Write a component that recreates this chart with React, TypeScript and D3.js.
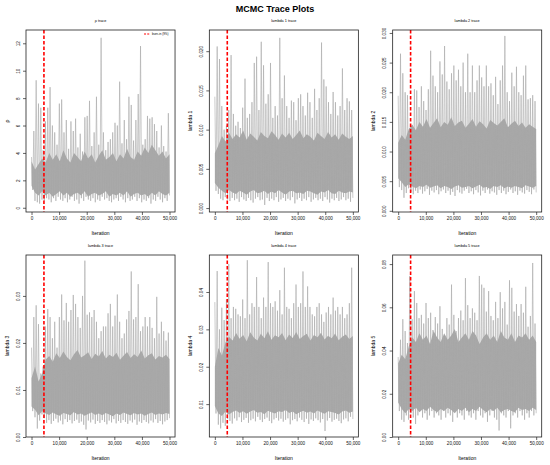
'use client'

import React, { useEffect, useRef } from 'react'
import * as d3 from 'd3'

// Iteration axis
const iterationTicks = [0, 10000, 20000, 30000, 40000, 50000]
const totalIterations = 50000
const burnInIteration = 4500
const burnInLabel = 'burn-in (9%)'

// Peaks and troughs seen in 60 consecutive slices of each chain
const rhoHigh = [
  3.7, 5.6, 9.3, 7.6, 7.3, 4.2, 6.3, 7.3, 8.8, 6.0,
  5.5, 4.6, 7.6, 7.9, 5.5, 6.4, 4.3, 6.3, 5.6, 6.5,
  4.4, 5.4, 4.1, 6.6, 6.7, 7.8, 4.5, 5.5, 8.1, 4.6,
  12.4, 5.5, 4.2, 4.8, 5.0, 5.5, 6.2, 6.0, 9.2, 4.7,
  6.4, 5.0, 8.1, 7.5, 4.9, 6.4, 8.3, 11.8, 4.6, 5.0,
  6.7, 6.5, 6.6, 6.1, 5.6, 4.4, 6.0, 4.5, 4.1, 6.9,
]
const rhoLow = [
  1.3, 0.5, 0.4, 0.3, 0.6, 0.5, 0.7, 0.6, 0.4, 0.7,
  0.5, 0.8, 0.6, 0.5, 0.7, 0.4, 0.6, 0.8, 0.5, 0.6,
  0.3, 0.7, 0.5, 0.8, 0.6, 0.5, 0.7, 0.4, 0.6, 0.5,
  0.8, 0.6, 0.7, 0.5, 0.4, 0.6, 0.7, 0.5, 0.8, 0.6,
  0.4, 0.7, 0.5, 0.6, 0.8, 0.5, 0.7, 0.4, 0.6, 0.5,
  0.7, 0.3, 0.6, 0.5, 0.8, 0.6, 0.4, 0.7, 0.5, 0.9,
]
// Edges of the dense body of each chain (40 points along the chain)
const rhoCoreHigh = [
  3.4, 2.8, 3.2, 3.6, 3.3, 4.0, 3.5, 3.9, 3.4, 4.2, 3.6, 3.3, 4.0, 3.7, 3.4, 4.1, 3.6, 3.9, 3.3, 3.8,
  4.2, 3.5, 3.7, 4.0, 3.4, 3.9, 3.6, 4.3, 3.7, 3.5, 4.1, 3.8, 4.4, 4.0, 4.6, 4.2, 3.8, 4.1, 3.6, 3.9,
]
const rhoCoreLow = [
  1.6, 1.1, 0.9, 1.2, 0.9, 1.1, 0.8, 1.0, 1.2, 0.9, 1.1, 0.8, 1.0, 1.1, 0.9, 1.2, 0.8, 1.0, 1.1, 0.9,
  1.0, 1.2, 0.8, 1.0, 0.9, 1.1, 0.9, 1.2, 0.8, 1.0, 1.1, 0.9, 1.0, 0.8, 1.1, 0.9, 1.2, 1.0, 0.9, 1.1,
]

const lambda1High = [
  0.0142, 0.0206, 0.019, 0.013, 0.010, 0.0105, 0.0125, 0.0195, 0.012, 0.0105,
  0.011, 0.0102, 0.0128, 0.0165, 0.0115, 0.012, 0.0135, 0.0185, 0.0193, 0.0125,
  0.0212, 0.0182, 0.0133, 0.0145, 0.0185, 0.0115, 0.013, 0.0118, 0.0217, 0.014,
  0.0169, 0.013, 0.0115, 0.0137, 0.0135, 0.0112, 0.014, 0.0145, 0.013, 0.0118,
  0.0147, 0.0135, 0.0115, 0.0152, 0.0125, 0.014, 0.0211, 0.0164, 0.0155, 0.0135,
  0.012, 0.0148, 0.0135, 0.0118, 0.013, 0.0178, 0.0125, 0.014, 0.0136, 0.0125,
]
const lambda1Low = [
  0.0022, 0.0018, 0.0012, 0.0010, 0.0014, 0.0011, 0.0009, 0.0013, 0.0010, 0.0012,
  0.0008, 0.0014, 0.0011, 0.0009, 0.0013, 0.0010, 0.0007, 0.0012, 0.0014, 0.0010,
  0.0011, 0.0004, 0.0013, 0.0009, 0.0012, 0.0010, 0.0014, 0.0008, 0.0011, 0.0013,
  0.0009, 0.0012, 0.0010, 0.0014, 0.0006, 0.0011, 0.0013, 0.0009, 0.0012, 0.0010,
  0.0014, 0.0008, 0.0011, 0.0013, 0.0010, 0.0012, 0.0009, 0.0014, 0.0011, 0.0007,
  0.0012, 0.0010, 0.0013, 0.0009, 0.0011, 0.0014, 0.0010, 0.0012, 0.0008, 0.0013,
]
const lambda1CoreHigh = [
  0.0070, 0.0080, 0.0092, 0.0085, 0.0096, 0.0088, 0.0094, 0.0090, 0.0099, 0.0087,
  0.0095, 0.0091, 0.0086, 0.0097, 0.0092, 0.0089, 0.0098, 0.0093, 0.0087, 0.0095,
  0.0090, 0.0096, 0.0088, 0.0093, 0.0099, 0.0089, 0.0094, 0.0091, 0.0086, 0.0096,
  0.0092, 0.0088, 0.0097, 0.0090, 0.0094, 0.0087, 0.0095, 0.0091, 0.0088, 0.0092,
]
const lambda1CoreLow = [
  0.0032, 0.0026, 0.0022, 0.0019, 0.0023, 0.0020, 0.0018, 0.0022, 0.0020, 0.0017,
  0.0021, 0.0023, 0.0019, 0.0020, 0.0022, 0.0018, 0.0021, 0.0019, 0.0023, 0.0020,
  0.0017, 0.0021, 0.0022, 0.0019, 0.0020, 0.0018, 0.0022, 0.0021, 0.0019, 0.0017,
  0.0021, 0.0020, 0.0023, 0.0019, 0.0018, 0.0022, 0.0020, 0.0019, 0.0021, 0.0020,
]

const lambda2High = [
  0.0194, 0.0265, 0.0232, 0.020, 0.0195, 0.014, 0.0145, 0.0205, 0.0203, 0.0175,
  0.021, 0.0185, 0.017, 0.0205, 0.027, 0.0228, 0.021, 0.020, 0.0252, 0.023,
  0.0278, 0.0218, 0.0205, 0.0232, 0.0245, 0.022, 0.0238, 0.021, 0.025, 0.020,
  0.0265, 0.020, 0.0245, 0.020, 0.022, 0.0245, 0.0225, 0.021, 0.0245, 0.021,
  0.0215, 0.0195, 0.0226, 0.018, 0.022, 0.0245, 0.0295, 0.020, 0.0185, 0.0233,
  0.021, 0.0243, 0.020, 0.0195, 0.0228, 0.0245, 0.0188, 0.019, 0.0195, 0.0185,
]
const lambda2Low = [
  0.0040, 0.0035, 0.0022, 0.0030, 0.0038, 0.0032, 0.0028, 0.0034, 0.0030, 0.0036,
  0.0029, 0.0033, 0.0037, 0.0027, 0.0034, 0.0031, 0.0035, 0.0028, 0.0033, 0.0036,
  0.0030, 0.0034, 0.0027, 0.0032, 0.0025, 0.0035, 0.0031, 0.0029, 0.0034, 0.0037,
  0.0030, 0.0033, 0.0028, 0.0035, 0.0031, 0.0026, 0.0034, 0.0030, 0.0036, 0.0029,
  0.0033, 0.0031, 0.0027, 0.0035, 0.0030, 0.0034, 0.0028, 0.0032, 0.0036, 0.0030,
  0.0033, 0.0027, 0.0034, 0.0031, 0.0029, 0.0035, 0.0032, 0.0028, 0.0036, 0.0031,
]
const lambda2CoreHigh = [
  0.0115, 0.0128, 0.0120, 0.0138, 0.0145, 0.0136, 0.0150, 0.0142, 0.0155, 0.0140,
  0.0148, 0.0156, 0.0141, 0.0150, 0.0145, 0.0158, 0.0143, 0.0149, 0.0152, 0.0140,
  0.0147, 0.0155, 0.0142, 0.0151, 0.0146, 0.0139, 0.0153, 0.0148, 0.0144, 0.0150,
  0.0156, 0.0141, 0.0147, 0.0152, 0.0143, 0.0149, 0.0140, 0.0146, 0.0142, 0.0138,
]
const lambda2CoreLow = [
  0.0055, 0.0048, 0.0040, 0.0045, 0.0041, 0.0038, 0.0042, 0.0040, 0.0044, 0.0039,
  0.0041, 0.0043, 0.0038, 0.0042, 0.0040, 0.0037, 0.0041, 0.0043, 0.0039, 0.0040,
  0.0042, 0.0038, 0.0041, 0.0044, 0.0039, 0.0040, 0.0037, 0.0042, 0.0040, 0.0043,
  0.0038, 0.0041, 0.0039, 0.0042, 0.0040, 0.0038, 0.0043, 0.0041, 0.0039, 0.0042,
]

const lambda3High = [
  0.019, 0.0255, 0.028, 0.024, 0.0135, 0.015, 0.0235, 0.0272, 0.0255, 0.021,
  0.0245, 0.019, 0.0255, 0.0303, 0.0248, 0.0285, 0.0245, 0.027, 0.0302, 0.0283,
  0.0255, 0.0232, 0.030, 0.0375, 0.026, 0.0265, 0.0255, 0.027, 0.0245, 0.021,
  0.0225, 0.0235, 0.0235, 0.0263, 0.0283, 0.0235, 0.0258, 0.0303, 0.0245, 0.021,
  0.022, 0.025, 0.0268, 0.0352, 0.025, 0.0255, 0.0325, 0.0225, 0.0235, 0.0255,
  0.0235, 0.0255, 0.0232, 0.021, 0.0298, 0.022, 0.0245, 0.0225, 0.0205, 0.0222,
]
const lambda3Low = [
  0.0055, 0.0042, 0.0018, 0.0035, 0.0048, 0.0040, 0.0030, 0.0036, 0.0028, 0.0034,
  0.0039, 0.0031, 0.0035, 0.0027, 0.0038, 0.0032, 0.0036, 0.0029, 0.0034, 0.0037,
  0.0030, 0.0033, 0.0026, 0.0016, 0.0035, 0.0031, 0.0037, 0.0028, 0.0034, 0.0030,
  0.0036, 0.0032, 0.0027, 0.0035, 0.0031, 0.0038, 0.0029, 0.0034, 0.0030, 0.0036,
  0.0032, 0.0028, 0.0035, 0.0031, 0.0037, 0.0026, 0.0033, 0.0030, 0.0036, 0.0032,
  0.0029, 0.0035, 0.0031, 0.0038, 0.0030, 0.0034, 0.0027, 0.0033, 0.0036, 0.0040,
]
const lambda3CoreHigh = [
  0.0125, 0.0150, 0.0118, 0.0135, 0.0165, 0.0172, 0.0160, 0.0178, 0.0168, 0.0182,
  0.0170, 0.0163, 0.0176, 0.0185, 0.0169, 0.0174, 0.0180, 0.0166, 0.0177, 0.0171,
  0.0183, 0.0167, 0.0175, 0.0170, 0.0179, 0.0164, 0.0173, 0.0181, 0.0168, 0.0176,
  0.0170, 0.0184, 0.0167, 0.0174, 0.0178, 0.0165, 0.0172, 0.0169, 0.0175, 0.0166,
]
const lambda3CoreLow = [
  0.0065, 0.0058, 0.0046, 0.0055, 0.0050, 0.0047, 0.0052, 0.0048, 0.0045, 0.0051,
  0.0049, 0.0046, 0.0053, 0.0048, 0.0050, 0.0045, 0.0049, 0.0052, 0.0047, 0.0050,
  0.0046, 0.0051, 0.0048, 0.0044, 0.0050, 0.0047, 0.0052, 0.0049, 0.0046, 0.0051,
  0.0048, 0.0050, 0.0045, 0.0049, 0.0052, 0.0047, 0.0050, 0.0048, 0.0051, 0.0049,
]

const lambda4High = [
  0.0373, 0.0456, 0.030, 0.0358, 0.0325, 0.038, 0.0475, 0.033, 0.036, 0.0355,
  0.034, 0.0335, 0.038, 0.033, 0.0485, 0.034, 0.037, 0.036, 0.044, 0.036,
  0.033, 0.0385, 0.036, 0.048, 0.037, 0.036, 0.0375, 0.035, 0.0405, 0.034,
  0.0465, 0.036, 0.0355, 0.033, 0.037, 0.042, 0.036, 0.037, 0.0455, 0.036,
  0.0415, 0.036, 0.034, 0.0335, 0.036, 0.037, 0.034, 0.032, 0.0345, 0.036,
  0.034, 0.0385, 0.035, 0.036, 0.034, 0.036, 0.033, 0.034, 0.037, 0.0465,
]
const lambda4Low = [
  0.0075, 0.0045, 0.0035, 0.0050, 0.0042, 0.0060, 0.0055, 0.0048, 0.0062, 0.0056,
  0.0065, 0.0052, 0.0058, 0.0063, 0.0050, 0.0057, 0.0061, 0.0054, 0.0066, 0.0058,
  0.0052, 0.0060, 0.0064, 0.0055, 0.0049, 0.0059, 0.0063, 0.0056, 0.0061, 0.0053,
  0.0058, 0.0062, 0.0046, 0.0057, 0.0060, 0.0054, 0.0064, 0.0058, 0.0052, 0.0061,
  0.0047, 0.0059, 0.0055, 0.0062, 0.0057, 0.0051, 0.0060, 0.0028, 0.0056, 0.0063,
  0.0053, 0.0058, 0.0061, 0.0055, 0.0049, 0.0059, 0.0062, 0.0054, 0.0066, 0.0060,
]
const lambda4CoreHigh = [
  0.0200, 0.0250, 0.0230, 0.0265, 0.0280, 0.0270, 0.0290, 0.0275, 0.0285, 0.0268,
  0.0292, 0.0278, 0.0270, 0.0288, 0.0276, 0.0295, 0.0272, 0.0284, 0.0279, 0.0290,
  0.0271, 0.0286, 0.0277, 0.0293, 0.0274, 0.0282, 0.0288, 0.0270, 0.0285, 0.0279,
  0.0291, 0.0273, 0.0283, 0.0276, 0.0289, 0.0271, 0.0280, 0.0286, 0.0274, 0.0282,
]
const lambda4CoreLow = [
  0.0095, 0.0075, 0.0068, 0.0080, 0.0072, 0.0079, 0.0083, 0.0076, 0.0081, 0.0074,
  0.0080, 0.0084, 0.0077, 0.0079, 0.0073, 0.0082, 0.0078, 0.0075, 0.0081, 0.0079,
  0.0084, 0.0076, 0.0080, 0.0073, 0.0078, 0.0082, 0.0077, 0.0080, 0.0075, 0.0083,
  0.0078, 0.0074, 0.0081, 0.0079, 0.0076, 0.0072, 0.0080, 0.0083, 0.0077, 0.0080,
]

const lambda5High = [
  0.037, 0.045, 0.0545, 0.049, 0.0435, 0.0745, 0.0545, 0.0675, 0.062, 0.055,
  0.0565, 0.0525, 0.062, 0.055, 0.0575, 0.0495, 0.0555, 0.0525, 0.0605, 0.050,
  0.047, 0.055, 0.052, 0.0705, 0.0565, 0.049, 0.055, 0.0585, 0.054, 0.0735,
  0.061, 0.055, 0.0595, 0.0575, 0.054, 0.0745, 0.0705, 0.069, 0.058, 0.0675,
  0.056, 0.054, 0.0625, 0.055, 0.067, 0.0595, 0.0625, 0.052, 0.0725, 0.069,
  0.058, 0.0615, 0.056, 0.0615, 0.0575, 0.0695, 0.051, 0.056, 0.0805, 0.0525,
]
const lambda5Low = [
  0.012, 0.008, 0.007, 0.010, 0.008, 0.011, 0.009, 0.006, 0.010, 0.012,
  0.009, 0.011, 0.008, 0.010, 0.012, 0.009, 0.011, 0.010, 0.008, 0.012,
  0.009, 0.011, 0.010, 0.007, 0.012, 0.009, 0.011, 0.010, 0.008, 0.012,
  0.010, 0.009, 0.011, 0.008, 0.012, 0.010, 0.009, 0.011, 0.007, 0.010,
  0.012, 0.009, 0.008, 0.003, 0.011, 0.010, 0.009, 0.012, 0.004, 0.010,
  0.011, 0.009, 0.012, 0.010, 0.008, 0.011, 0.009, 0.012, 0.010, 0.011,
]
const lambda5CoreHigh = [
  0.034, 0.038, 0.036, 0.042, 0.046, 0.044, 0.048, 0.045, 0.047, 0.043,
  0.049, 0.046, 0.044, 0.048, 0.045, 0.047, 0.050, 0.044, 0.046, 0.048,
  0.045, 0.049, 0.047, 0.043, 0.046, 0.048, 0.045, 0.047, 0.044, 0.049,
  0.046, 0.045, 0.048, 0.044, 0.047, 0.046, 0.048, 0.045, 0.047, 0.044,
]
const lambda5CoreLow = [
  0.016, 0.013, 0.011, 0.013, 0.012, 0.0135, 0.0115, 0.013, 0.012, 0.014,
  0.0125, 0.0115, 0.013, 0.012, 0.0135, 0.0125, 0.011, 0.013, 0.012, 0.0135,
  0.0115, 0.013, 0.012, 0.014, 0.0125, 0.0115, 0.013, 0.012, 0.0135, 0.0115,
  0.0125, 0.013, 0.012, 0.0115, 0.0135, 0.0125, 0.013, 0.012, 0.0135, 0.0125,
]

interface PanelSpec {
  title: string
  yLabel: string
  high: number[]
  low: number[]
  coreHigh: number[]
  coreLow: number[]
  yDomain: [number, number]
  yTicks: number[]
  yFormat: (d: number) => string
  legend?: boolean
}

const panels: PanelSpec[] = [
  { title: 'ρ trace', yLabel: 'ρ', high: rhoHigh, low: rhoLow, coreHigh: rhoCoreHigh, coreLow: rhoCoreLow, yDomain: [-0.31, 12.97], yTicks: [0, 2, 4, 6, 8, 10, 12], yFormat: d3.format('d'), legend: true },
  { title: 'lambda 1 trace', yLabel: 'lambda 1', high: lambda1High, low: lambda1Low, coreHigh: lambda1CoreHigh, coreLow: lambda1CoreLow, yDomain: [-0.0005, 0.0227], yTicks: [0, 0.005, 0.01, 0.015, 0.02], yFormat: d3.format('.3f') },
  { title: 'lambda 2 trace', yLabel: 'lambda 2', high: lambda2High, low: lambda2Low, coreHigh: lambda2CoreHigh, coreLow: lambda2CoreLow, yDomain: [-0.0002, 0.0305], yTicks: [0, 0.005, 0.01, 0.015, 0.02, 0.025, 0.03], yFormat: d3.format('.3f') },
  { title: 'lambda 3 trace', yLabel: 'lambda 3', high: lambda3High, low: lambda3Low, coreHigh: lambda3CoreHigh, coreLow: lambda3CoreLow, yDomain: [0.0, 0.0387], yTicks: [0, 0.01, 0.02, 0.03], yFormat: d3.format('.2f') },
  { title: 'lambda 4 trace', yLabel: 'lambda 4', high: lambda4High, low: lambda4Low, coreHigh: lambda4CoreHigh, coreLow: lambda4CoreLow, yDomain: [0.0012, 0.0499], yTicks: [0.01, 0.02, 0.03, 0.04], yFormat: d3.format('.2f') },
  { title: 'lambda 5 trace', yLabel: 'lambda 5', high: lambda5High, low: lambda5Low, coreHigh: lambda5CoreHigh, coreLow: lambda5CoreLow, yDomain: [0.0, 0.0842], yTicks: [0, 0.02, 0.04, 0.06, 0.08], yFormat: d3.format('.2f') },
]

const W = 550
const H = 465
const FONT = '"Liberation Sans", Arial, Helvetica, sans-serif'

export default function App() {
  const svgRef = useRef<SVGSVGElement>(null)

  useEffect(() => {
    if (!svgRef.current) return
    document.body.style.margin = '0'

    const svg = d3.select(svgRef.current)
    svg.selectAll('*').remove()

    svg.append('rect').attr('width', W).attr('height', H).attr('fill', '#fff')

    // main title
    svg.append('text')
      .attr('x', W / 2)
      .attr('y', 11.5)
      .attr('text-anchor', 'middle')
      .style('font-family', FONT)
      .style('font-weight', 'bold')
      .style('font-size', '9px')
      .text('MCMC Trace Plots')

    const cellW = W / 3
    const cellH = 225
    const outerTop = 15
    const margin = { top: 15, right: 8.3, bottom: 28, left: 26 }

    panels.forEach((p, idx) => {
      const col = idx % 3
      const row = Math.floor(idx / 3)
      const left = col * cellW + margin.left
      const right = (col + 1) * cellW - margin.right
      const top = outerTop + row * cellH + margin.top
      const bottom = outerTop + (row + 1) * cellH - margin.bottom

      const x = d3.scaleLinear().domain([-2000, 52000]).range([left, right])
      const y = d3.scaleLinear().domain(p.yDomain).range([bottom, top])

      const g = svg.append('g')

      const clipId = `clip-${idx}`
      g.append('clipPath').attr('id', clipId)
        .append('rect')
        .attr('x', left).attr('y', top)
        .attr('width', right - left).attr('height', bottom - top)

      const plot = g.append('g').attr('clip-path', `url(#${clipId})`)

      // dense body of the chain
      const coreStep = totalIterations / (p.coreHigh.length - 1)
      const core = d3.area<number>()
        .x((_, i) => x(i * coreStep))
        .y0((_, i) => y(p.coreLow[i]))
        .y1(d => y(d))
      plot.append('path')
        .datum(p.coreHigh)
        .attr('fill', '#aaaaaa')
        .attr('d', core)

      // peaks and troughs interleaved into one trace
      const n = p.high.length
      const step = totalIterations / (2 * n - 1)
      const trace: [number, number][] = p.high.flatMap((h, i) => [
        [2 * i * step, h] as [number, number],
        [(2 * i + 1) * step, p.low[i]] as [number, number],
      ])

      const line = d3.line<[number, number]>()
        .x(d => x(d[0]))
        .y(d => y(d[1]))

      plot.append('path')
        .datum(trace)
        .attr('fill', 'none')
        .attr('stroke', '#a6a6a6')
        .attr('stroke-opacity', 0.65)
        .attr('stroke-width', 0.9)
        .attr('d', line)

      // burn-in marker
      g.append('line')
        .attr('x1', x(burnInIteration)).attr('x2', x(burnInIteration))
        .attr('y1', top).attr('y2', bottom)
        .attr('stroke', '#ff0000')
        .attr('stroke-width', 1.6)
        .attr('stroke-dasharray', '3.5,2')

      // box
      g.append('rect')
        .attr('x', left).attr('y', top)
        .attr('width', right - left).attr('height', bottom - top)
        .attr('fill', 'none')
        .attr('stroke', '#222')
        .attr('stroke-width', 0.8)

      // x axis
      const xAxis = g.append('g')
        .attr('transform', `translate(0,${bottom})`)
        .call(d3.axisBottom(x).tickValues(iterationTicks).tickFormat(d => d3.format(',')(d as number)).tickSize(3).tickPadding(2))
      xAxis.select('.domain').remove()
      xAxis.selectAll('line').attr('stroke', '#222').attr('stroke-width', 0.7)
      xAxis.selectAll('text')
        .attr('fill', '#111')
        .style('font-family', FONT)
        .style('font-size', '4.6px')

      // y axis
      const yAxis = g.append('g')
        .attr('transform', `translate(${left},0)`)
        .call(d3.axisLeft(y).tickValues(p.yTicks).tickFormat(d => p.yFormat(d as number)).tickSize(3))
      yAxis.select('.domain').remove()
      yAxis.selectAll('line').attr('stroke', '#222').attr('stroke-width', 0.7)
      yAxis.selectAll('text')
        .attr('x', null)
        .attr('dy', null)
        .attr('transform', 'translate(-6.5,0) rotate(-90)')
        .attr('text-anchor', 'middle')
        .attr('fill', '#111')
        .style('font-family', FONT)
        .style('font-size', '4.6px')

      // axis titles
      g.append('text')
        .attr('x', (left + right) / 2)
        .attr('y', bottom + 23)
        .attr('text-anchor', 'middle')
        .style('font-family', FONT)
        .style('font-size', '5px')
        .text('Iteration')

      g.append('text')
        .attr('transform', `translate(${left - 17.5},${(top + bottom) / 2}) rotate(-90)`)
        .attr('text-anchor', 'middle')
        .style('font-family', FONT)
        .style('font-size', '5px')
        .text(p.yLabel)

      g.append('text')
        .attr('x', (left + right) / 2)
        .attr('y', top - 8.5)
        .attr('text-anchor', 'middle')
        .style('font-family', FONT)
        .style('font-size', '3.8px')
        .text(p.title)

      if (p.legend) {
        const lg = g.append('g').attr('transform', `translate(${right - 31},${top + 4})`)
        lg.append('line')
          .attr('x1', 0).attr('x2', 6).attr('y1', 0).attr('y2', 0)
          .attr('stroke', '#ff0000').attr('stroke-width', 1.2)
          .attr('stroke-dasharray', '2,1.2')
        lg.append('text')
          .attr('x', 8).attr('y', 1)
          .style('font-family', FONT)
          .style('font-size', '3px')
          .text(burnInLabel)
      }
    })
  }, [])

  return <svg ref={svgRef} width={W} height={H} style={{ display: 'block' }} />
}
